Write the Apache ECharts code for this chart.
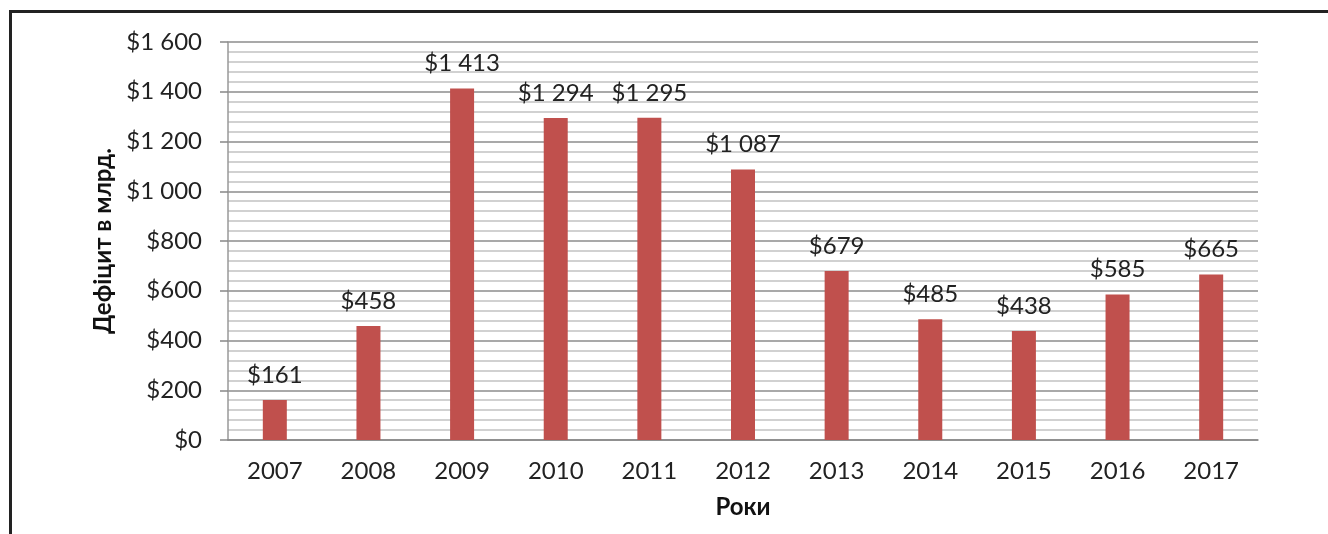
<!DOCTYPE html>
<html>
<head>
<meta charset="utf-8">
<script src="https://cdn.jsdelivr.net/npm/echarts@6/dist/echarts.min.js"></script>
<style>
    html, body { margin: 0; padding: 0; background: #fff; }
    #frame { position: absolute; left: 9px; top: 10px; width: 1330px; height: 540px;
             border-top: 3px solid #222; border-left: 3px solid #222; }
    #chart { position: absolute; left: 0; top: 0; width: 1328px; height: 534px; }
</style>
</head>
<body>
<div id="frame"></div>
<div id="chart"></div>
<script>
// years and deficit values (billions $)
var years = ["2007", "2008", "2009", "2010", "2011", "2012", "2013", "2014", "2015", "2016", "2017"];
var deficit = [161, 458, 1413, 1294, 1295, 1087, 679, 485, 438, 585, 665];

function money(v) {
    var s = String(Math.round(v));
    s = s.replace(/\B(?=(\d{3})+(?!\d))/g, " ");
    return "$" + s;
}

var chart = echarts.init(document.getElementById('chart'));

var option = {
    animation: false,
    textStyle: { fontFamily: 'Lato' },
    grid: {
        left: 228,
        right: 70,
        top: 42,
        bottom: 94
    },
    xAxis: {
        type: 'category',
        data: years,
        name: 'Роки',
        nameLocation: 'middle',
        nameGap: 55,
        nameTextStyle: { fontSize: 24, fontWeight: 'bold', color: '#111', fontFamily: 'Lato' },
        axisLine: { lineStyle: { color: '#888', width: 1.5 } },
        axisTick: { show: false },
        axisLabel: { fontSize: 24, color: '#222', margin: 19 }
    },
    yAxis: {
        type: 'value',
        min: 0,
        max: 1600,
        interval: 200,
        name: 'Дефіцит в млрд.',
        nameLocation: 'middle',
        nameGap: 110,
        nameRotate: 90,
        nameTextStyle: { fontSize: 24, fontWeight: 'bold', color: '#111', fontFamily: 'Lato' },
        axisLine: { show: true, lineStyle: { color: '#999', width: 1.5 } },
        axisTick: { show: true, length: 8, lineStyle: { color: '#888', width: 1.5 } },
        axisLabel: { fontSize: 24, color: '#222', margin: 26, formatter: money },
        splitLine: { lineStyle: { color: '#8c8c8c', width: 1.5 } },
        minorTick: { show: false, splitNumber: 5 },
        minorSplitLine: { show: true, lineStyle: { color: '#c2c2c2', width: 1.5 } }
    },
    series: [{
        type: 'bar',
        data: deficit,
        barWidth: 24,
        itemStyle: { color: '#C0504D' },
        label: {
            show: true,
            position: 'top',
            distance: 13,
            fontSize: 24,
            color: '#222',
            formatter: function (p) { return money(p.value); }
        }
    }]
};

chart.setOption(option);
</script>
</body>
</html>
